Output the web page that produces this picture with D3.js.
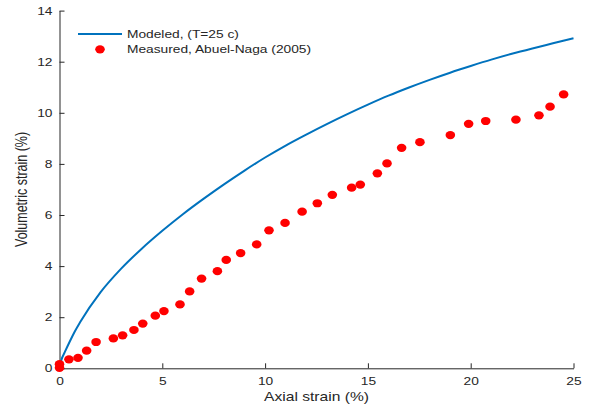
<!DOCTYPE html>
<html>
<head>
<meta charset="utf-8">
<script src="https://cdn.jsdelivr.net/npm/d3@7"></script>
<style>
  html, body { margin: 0; padding: 0; background: #fff; }
  svg { display: block; font-family: Arial, "Liberation Sans", Helvetica, sans-serif; }
  .axis path, .axis line { stroke: #262626; }
  .axis text { fill: #262626; font-size: 11px; }
</style>
</head>
<body>
<div id="chart"></div>
<script>
// Modeled curve (T=25 c)
const modeledX = [0, 0.1, 0.25, 0.5, 0.75, 1, 2, 3, 4, 5, 6, 7, 8, 9, 10, 11, 12, 13, 14, 15, 16, 17, 18, 19, 20, 21, 22, 23, 24, 25];
const modeledY = [0, 0.35, 0.62, 1.05, 1.45, 1.8, 2.98, 3.9, 4.68, 5.38, 6.03, 6.63, 7.2, 7.74, 8.25, 8.72, 9.15, 9.56, 9.95, 10.32, 10.67, 10.99, 11.29, 11.57, 11.83, 12.08, 12.31, 12.52, 12.72, 12.92];

// Measured, Abuel-Naga (2005)
const measuredX = [0, 0, 0.46, 0.9, 1.32, 1.78, 2.62, 3.07, 3.62, 4.05, 4.66, 5.08, 5.86, 6.33, 6.91, 7.68, 8.11, 8.81, 9.59, 10.19, 10.97, 11.8, 12.54, 13.27, 14.21, 14.63, 15.46, 15.93, 16.64, 17.53, 19.01, 19.9, 20.73, 22.2, 23.32, 23.86, 24.52];
const measuredY = [0.02, 0.16, 0.35, 0.41, 0.69, 1.03, 1.17, 1.29, 1.5, 1.75, 2.06, 2.24, 2.5, 3.01, 3.51, 3.8, 4.24, 4.51, 4.85, 5.4, 5.69, 6.13, 6.46, 6.79, 7.07, 7.19, 7.63, 8.02, 8.63, 8.85, 9.13, 9.57, 9.68, 9.73, 9.9, 10.24, 10.72];

const xTicks = [0, 5, 10, 15, 20, 25];
const yTicks = [0, 2, 4, 6, 8, 10, 12, 14];
const legendLabels = ['Modeled, (T=25 c)', 'Measured, Abuel-Naga (2005)'];

const blue = '#0072bd';
const red = '#ff0000';
const stretch = 1.25; // glyphs in the reference are a little wide

const width = 591, height = 410;
const margin = { top: 10.6, right: 17.5, bottom: 41.7, left: 59.5 };
const W = width - margin.left - margin.right;
const H = height - margin.top - margin.bottom;

const svg = d3.select('#chart').append('svg')
  .attr('width', width)
  .attr('height', height);

const g = svg.append('g').attr('transform', `translate(${margin.left},${margin.top})`);

const x = d3.scaleLinear().domain([0, 25]).range([0, W]);
const y = d3.scaleLinear().domain([0, 14]).range([H, 0]);

// Axes (ticks point inward, no box)
g.append('g').attr('class', 'axis')
  .attr('transform', `translate(0,${H})`)
  .call(d3.axisBottom(x).tickValues(xTicks).tickSizeInner(-5).tickSizeOuter(0).tickPadding(9))
  .call(a => a.selectAll('text').attr('transform', `scale(${stretch},1)`));

g.append('g').attr('class', 'axis')
  .call(d3.axisLeft(y).tickValues(yTicks).tickSizeInner(-5).tickSizeOuter(0).tickPadding(7))
  .call(a => a.selectAll('text')
    .attr('x', -7 / stretch)
    .attr('transform', `scale(${stretch},1)`));

// Modeled line
const modeled = modeledX.map((v, i) => [v, modeledY[i]]);
g.append('path')
  .datum(modeled)
  .attr('fill', 'none')
  .attr('stroke', blue)
  .attr('stroke-width', 2)
  .attr('d', d3.line().x(d => x(d[0])).y(d => y(d[1])).curve(d3.curveMonotoneX));

// Measured points
const measured = measuredX.map((v, i) => [v, measuredY[i]]);
g.selectAll('.pt')
  .data(measured)
  .join('ellipse')
  .attr('class', 'pt')
  .attr('cx', d => x(d[0]))
  .attr('cy', d => y(d[1]))
  .attr('rx', 4.8)
  .attr('ry', 4.1)
  .attr('fill', red);

// Axis labels
svg.append('text')
  .attr('transform', `translate(${margin.left + W / 2},401) scale(${stretch},1)`)
  .attr('text-anchor', 'middle')
  .attr('fill', '#262626')
  .attr('font-size', 12.5)
  .text('Axial strain (%)');

svg.append('text')
  .attr('transform', `translate(27,${margin.top + H / 2}) rotate(-90) scale(1,${stretch})`)
  .attr('text-anchor', 'middle')
  .attr('fill', '#262626')
  .attr('font-size', 12.5)
  .text('Volumetric strain (%)');

// Legend
const legend = svg.append('g');
legend.append('line')
  .attr('x1', 78).attr('x2', 122).attr('y1', 34).attr('y2', 34)
  .attr('stroke', blue).attr('stroke-width', 2);
legend.append('ellipse')
  .attr('cx', 100).attr('cy', 49.3).attr('rx', 4.8).attr('ry', 4.1)
  .attr('fill', red);
legendLabels.forEach((t, i) => {
  legend.append('text')
    .attr('transform', `translate(127,${34 + i * 15.3}) scale(${stretch},1)`)
    .attr('dy', '0.35em')
    .attr('fill', '#262626')
    .attr('font-size', 11)
    .text(t);
});
</script>
</body>
</html>
